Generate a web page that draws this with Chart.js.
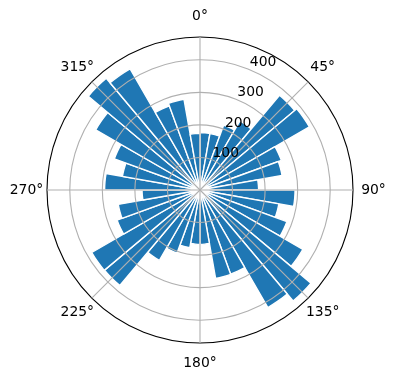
<!DOCTYPE html>
<html>
<head>
<meta charset="utf-8">
<script src="https://cdn.jsdelivr.net/npm/chart.js@4.4.1/dist/chart.umd.min.js"></script>
<style>
  html, body { margin: 0; padding: 0; background: #fff; }
  canvas { display: block; }
</style>
</head>
<body>
<canvas id="c" width="396" height="380"></canvas>
<script>
// 36 bins of 10 degrees each, clockwise from north (0-10, 10-20, ...)
const binLabels = ['0-10°','10-20°','20-30°','30-40°','40-50°','50-60°','60-70°','70-80°','80-90°',
  '90-100°','100-110°','110-120°','120-130°','130-140°','140-150°','150-160°','160-170°','170-180°',
  '180-190°','190-200°','200-210°','210-220°','220-230°','230-240°','240-250°','250-260°','260-270°',
  '270-280°','280-290°','290-300°','300-310°','310-320°','320-330°','330-340°','340-350°','350-360°'];
const counts = [176, 176, 212, 245, 380, 388, 266, 256, 180,
  292, 246, 284, 365, 445, 417, 275, 276, 167,
  167, 180, 206, 250, 383, 384, 271, 255, 178,
  293, 242, 280, 370, 448, 430, 275, 283, 174];
// Angular tick labels (every 45 degrees)
const angleLabels = ['0°','45°','90°','135°','180°','225°','270°','315°'];
// Radial tick labels
const radialTicks = [100, 200, 300, 400];
const radialMax = 470;

const FONT = '13.9px "DejaVu Sans", sans-serif';

const labelPlugin = {
  id: 'polarLabels',
  afterDraw(chart) {
    const s = chart.scales.r;
    const ctx = chart.ctx;
    ctx.save();
    ctx.fillStyle = '#000';
    ctx.font = FONT;
    ctx.textAlign = 'center';
    ctx.textBaseline = 'middle';
    angleLabels.forEach((t, i) => {
      const p = s.getPointPosition(i, s.drawingArea + 20.5);
      ctx.fillText(t, p.x, p.y);
    });
    ctx.textAlign = 'left';
    ctx.textBaseline = 'bottom';
    radialTicks.forEach(v => {
      const p = s.getPointPositionForValue(0.5, v);
      ctx.fillText(String(v), p.x, p.y);
    });
    ctx.restore();
  }
};

new Chart(document.getElementById('c'), {
  type: 'polarArea',
  data: {
    labels: angleLabels,
    datasets: [{
      label: 'count',
      data: counts,
      backgroundColor: '#1f77b4',
      borderColor: '#ffffff',
      borderWidth: 1.4
    }]
  },
  options: {
    responsive: false,
    animation: false,
    layout: { padding: { left: 47, right: 43, top: 37, bottom: 37 } },
    plugins: { legend: { display: false }, tooltip: { enabled: false } },
    scales: {
      r: {
        min: 0,
        max: radialMax,
        startAngle: 0,
        afterBuildTicks: (axis) => {
          axis.ticks = [0, ...radialTicks, radialMax].map(v => ({ value: v }));
        },
        ticks: { display: false },
        pointLabels: { display: false },
        angleLines: { display: true, color: '#b0b0b0', lineWidth: 1.1 },
        grid: {
          z: 1,
          circular: true,
          color: (c) => (c.tick && c.tick.value >= radialMax) ? '#000000' : '#b0b0b0',
          lineWidth: 1.1
        }
      }
    }
  },
  plugins: [labelPlugin]
});
</script>
</body>
</html>
